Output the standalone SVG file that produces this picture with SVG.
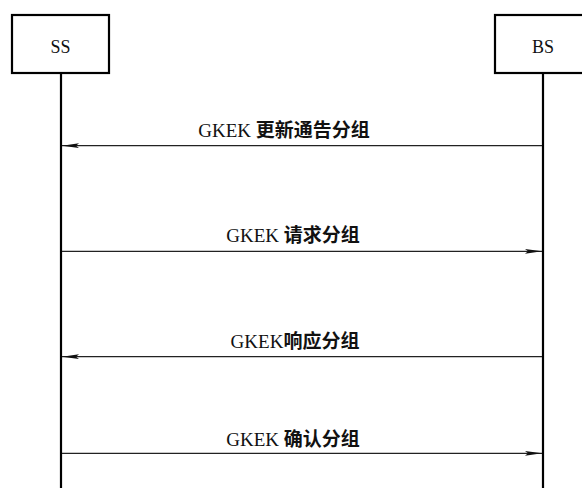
<svg xmlns="http://www.w3.org/2000/svg" width="582" height="488" viewBox="0 0 582 488">
<style>
.box{fill:#fff;stroke:#000;stroke-width:2.2}
.life{stroke:#000;stroke-width:2.2;fill:none}
.msg{stroke:#222;stroke-width:1.3;fill:none;marker-end:url(#ah)}
.name{font-family:"Liberation Serif","Noto Sans CJK SC",serif;font-size:18px;fill:#111;text-anchor:middle}
.lbl{font-family:"Liberation Serif","Noto Sans CJK SC",serif;font-size:19px;fill:#111;text-anchor:middle}
.cjk{font-family:"Noto Sans CJK SC",sans-serif;font-weight:bold}
</style>
<defs>
<marker id="ah" markerUnits="userSpaceOnUse" markerWidth="18" markerHeight="6" refX="17" refY="3" orient="auto">
<path d="M0,0.6 L17,3 L0,5.4 L3,3 z" fill="#111"/>
</marker>
</defs>
<rect width="582" height="488" fill="#fff"/>
<g id="SS">
<rect class="box" x="12" y="15" width="97" height="58"/>
<text class="name" x="60.5" y="53">SS</text>
<line class="life" x1="61" y1="73" x2="61" y2="488"/>
</g>
<g id="BS">
<rect class="box" x="495" y="15" width="100" height="58"/>
<text class="name" x="543" y="53">BS</text>
<line class="life" x1="543" y1="73" x2="543" y2="488"/>
</g>
<g id="connectors">
<line class="msg" x1="542" y1="145.7" x2="62" y2="145.7"/>
<text class="lbl" x="284" y="137">GKEK <tspan class="cjk">更新通告分组</tspan></text>
<line class="msg" x1="62" y1="251.3" x2="542" y2="251.3"/>
<text class="lbl" x="293" y="242">GKEK <tspan class="cjk">请求分组</tspan></text>
<line class="msg" x1="542" y1="356.7" x2="62" y2="356.7"/>
<text class="lbl" x="295" y="348">GKEK<tspan class="cjk">响应分组</tspan></text>
<line class="msg" x1="62" y1="453.3" x2="542" y2="453.3"/>
<text class="lbl" x="293" y="446">GKEK <tspan class="cjk">确认分组</tspan></text>
</g>
</svg>
